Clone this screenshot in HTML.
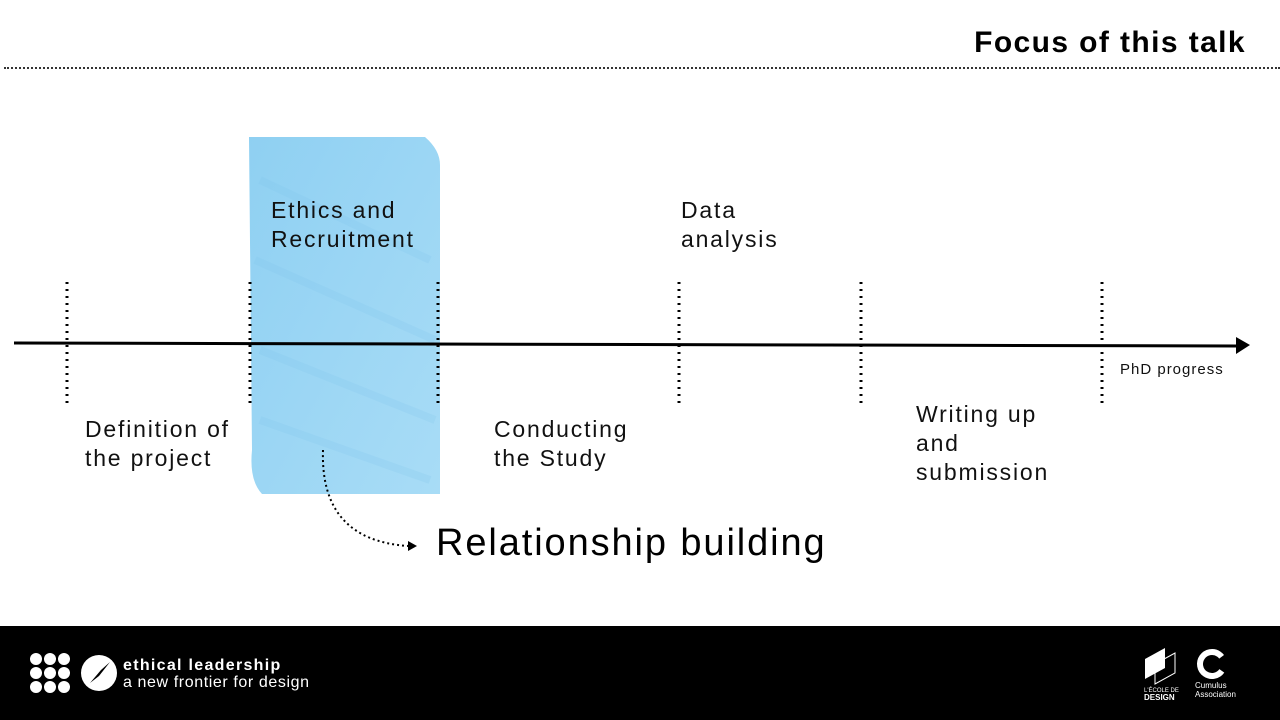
<!DOCTYPE html>
<html><head><meta charset="utf-8"><style>
body{margin:0;width:1280px;height:720px;overflow:hidden;background:#fff;font-family:"Liberation Sans",sans-serif;position:relative}
.t{position:absolute;color:#111;font-size:23px;line-height:29px;letter-spacing:1.8px}
</style></head><body>
<div style="position:absolute;right:34px;top:26px;font-size:30px;font-weight:bold;color:#000;letter-spacing:1.4px">Focus of this talk</div>
<div style="position:absolute;left:4px;right:0;top:67px;border-top:2px dotted #333"></div>
<svg width="1280" height="720" style="position:absolute;left:0;top:0">
<defs><linearGradient id="g" x1="0" y1="0" x2="1" y2="1"><stop offset="0" stop-color="#8fd0f2"/><stop offset="1" stop-color="#a8dcf6"/></linearGradient></defs>
<path d="M249,137 L425,137 Q440,150 440,165 L440,494 L262,494 Q249,480 252,450 Z" fill="url(#g)"/>
<g stroke="#7ec4ec" stroke-width="8" opacity="0.2">
<line x1="260" y1="180" x2="430" y2="260"/><line x1="255" y1="260" x2="435" y2="340"/><line x1="260" y1="350" x2="435" y2="420"/><line x1="260" y1="420" x2="430" y2="480"/>
</g>
<line x1="14" y1="343" x2="1238" y2="346" stroke="#000" stroke-width="3"/>
<polygon points="1250,345 1236,337 1236,354" fill="#000"/>
<g stroke="#000" stroke-width="3" stroke-dasharray="2,5">
<line x1="67" y1="282" x2="67" y2="406"/><line x1="250" y1="282" x2="250" y2="406"/><line x1="438" y1="282" x2="438" y2="406"/>
<line x1="679" y1="282" x2="679" y2="406"/><line x1="861" y1="282" x2="861" y2="406"/><line x1="1102" y1="282" x2="1102" y2="406"/>
</g>
<path d="M323,450 Q320,540 408,546" fill="none" stroke="#000" stroke-width="2" stroke-dasharray="2,3"/>
<polygon points="417,546 408,541 408,551" fill="#000"/>
</svg>
<div class="t" style="left:271px;top:196px">Ethics and<br>Recruitment</div>
<div class="t" style="left:681px;top:196px">Data<br>analysis</div>
<div class="t" style="left:85px;top:415px">Definition of<br>the project</div>
<div class="t" style="left:494px;top:415px">Conducting<br>the Study</div>
<div class="t" style="left:916px;top:400px">Writing up<br>and<br>submission</div>
<div style="position:absolute;left:1120px;top:361px;font-size:15px;color:#111;letter-spacing:1px">PhD progress</div>
<div style="position:absolute;left:436px;top:522px;font-size:38px;color:#000;letter-spacing:1.9px">Relationship building</div>
<div style="position:absolute;left:0;top:626px;width:1280px;height:94px;background:#000">
<svg width="330" height="94" style="position:absolute;left:0;top:0">
<g fill="#fff">
<circle cx="36" cy="33" r="6"/><circle cx="50" cy="33" r="6"/><circle cx="64" cy="33" r="6"/>
<circle cx="36" cy="47" r="6"/><circle cx="50" cy="47" r="6"/><circle cx="64" cy="47" r="6"/>
<circle cx="36" cy="61" r="6"/><circle cx="50" cy="61" r="6"/><circle cx="64" cy="61" r="6"/>
<circle cx="99" cy="47" r="18"/></g>
<path d="M90,57 L101,44 L110,36 L99,50 Z" fill="#000"/>
</svg>
<div style="position:absolute;left:123px;top:31px;color:#fff;font-size:16px;font-weight:bold;line-height:17px;letter-spacing:1.3px">ethical leadership</div>
<div style="position:absolute;left:123px;top:48px;color:#fff;font-size:16px;line-height:17px;letter-spacing:0.6px">a new frontier for design</div>
<svg width="140" height="94" style="position:absolute;left:1140px;top:0">
<path d="M5,33 L25,22 L25,42 L5,53 Z" fill="#fff"/><path d="M15,38 L35,27 L35,47 L15,58 Z" fill="none" stroke="#fff"/>
<circle cx="72" cy="38" r="12" fill="none" stroke="#fff" stroke-width="6" stroke-dasharray="60,16" transform="rotate(35 72 38)"/>
<text x="4" y="66" fill="#fff" font-size="6">L'ÉCOLE DE</text>
<text x="4" y="74" fill="#fff" font-size="8" font-weight="bold">DESIGN</text>
<text x="55" y="62" fill="#fff" font-size="8">Cumulus</text>
<text x="55" y="71" fill="#fff" font-size="8">Association</text>
</svg>
</div>
</body></html>
